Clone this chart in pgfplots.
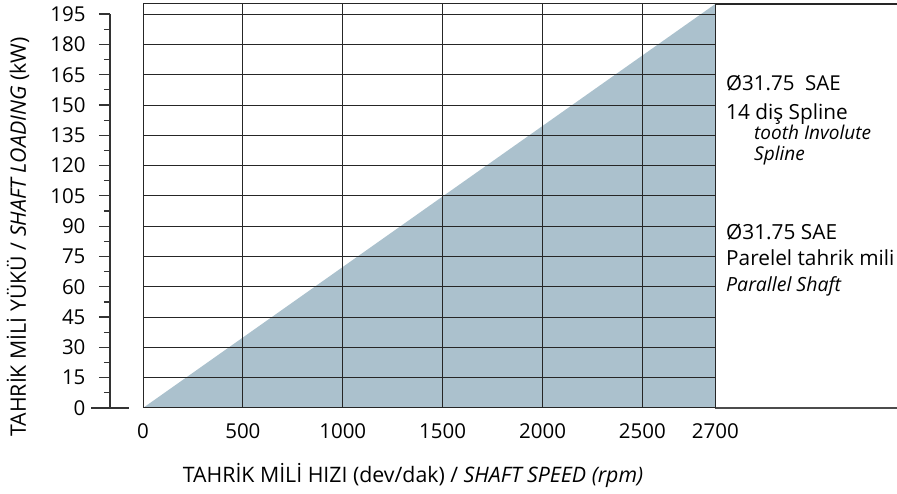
\documentclass[border=0pt]{standalone}
\usepackage{fontspec}
\setmainfont{Open Sans}
\usepackage{pgfplots}
\pgfplotsset{compat=1.18}
\definecolor{area}{RGB}{171,193,205}
\begin{document}
\begin{tikzpicture}[x=1pt,y=1pt]
\useasboundingbox (0,0) rectangle (897,494);
% extension of the top and bottom frame lines
\begin{axis}[at={(143pt,86pt)}, anchor=south west, scale only axis,
  width=754pt, height=404pt, xmin=0, xmax=3774, ymin=0, ymax=200,
  hide axis, clip=false]
\addplot[black!85, line width=1.2pt] coordinates {(2865,200) (3774,200)};
\addplot[black!70, line width=1.5pt] coordinates {(2865,0) (3774,0)};
\end{axis}
% grid region with the loading area
\begin{axis}[at={(143pt,86pt)}, anchor=south west, scale only axis,
  width=572.3pt, height=404pt, xmin=0, xmax=2865, ymin=0, ymax=200,
  xtick={0,500,1000,1500,2000,2500,2865},
  xticklabels={0,500,1000,1500,2000,2500,2700},
  ytick={15,30,...,195}, yticklabels={},
  grid=major, major grid style={black!85, line width=0.9pt},
  major tick length=0pt,
  axis line style={black!85, line width=1pt},
  axis on top,
  xticklabel style={font=\fontsize{20.5}{24}\selectfont, yshift=-12pt},
]
\addplot[fill=area, draw=none] coordinates {(0,0) (2865,200)} \closedcycle;
\end{axis}
% separate y axis
\begin{axis}[at={(110pt,86pt)}, anchor=south west, scale only axis,
  width=10pt, height=393.9pt, xmin=0, xmax=1, ymin=0, ymax=195,
  axis y line=left, axis x line=none,
  axis line style={-, black!80, line width=1.2pt},
  ytick={0,15,...,195}, minor ytick={7.5,22.5,...,187.5},
  tick align=outside, major tick length=11pt, minor tick length=6pt,
  tick style={black!80, line width=1.2pt},
  extra y ticks={0}, extra y tick labels={},
  extra y tick style={major tick length=37pt, tick align=center},
  yticklabel style={font=\fontsize{20.5}{24}\selectfont, xshift=-10pt},
  /pgf/number format/assume math mode=true,
]
\end{axis}
\node[rotate=90, font=\fontsize{21.3}{24}\selectfont] at (18,257) {TAHRİK MİLİ YÜKÜ / \textit{SHAFT LOADING} (kW)};
\node[anchor=base, font=\fontsize{21.3}{24}\selectfont] at (413,11) {TAHRİK MİLİ HIZI (dev/dak) / \textit{SHAFT SPEED (rpm)}};
\node[anchor=base west, inner sep=0pt, font=\fontsize{20.5}{24}\selectfont] at (726,403) {Ø31.75\ \ SAE};
\node[anchor=base west, inner sep=0pt, font=\fontsize{20.8}{24}\selectfont] at (726,374) {14 diş Spline};
\node[anchor=base west, inner sep=0pt, font=\fontsize{19}{22}\selectfont\itshape] at (754,354) {tooth Involute};
\node[anchor=base west, inner sep=0pt, font=\fontsize{19}{22}\selectfont\itshape] at (754,333) {Spline};
\node[anchor=base west, inner sep=0pt, font=\fontsize{20.8}{24}\selectfont] at (726,254) {Ø31.75 SAE};
\node[anchor=base west, inner sep=0pt, font=\fontsize{20.8}{24}\selectfont] at (726,228) {Parelel tahrik mili};
\node[anchor=base west, inner sep=0pt, font=\fontsize{19.5}{22}\selectfont\itshape] at (726,202) {Parallel Shaft};
\end{tikzpicture}
\end{document}
